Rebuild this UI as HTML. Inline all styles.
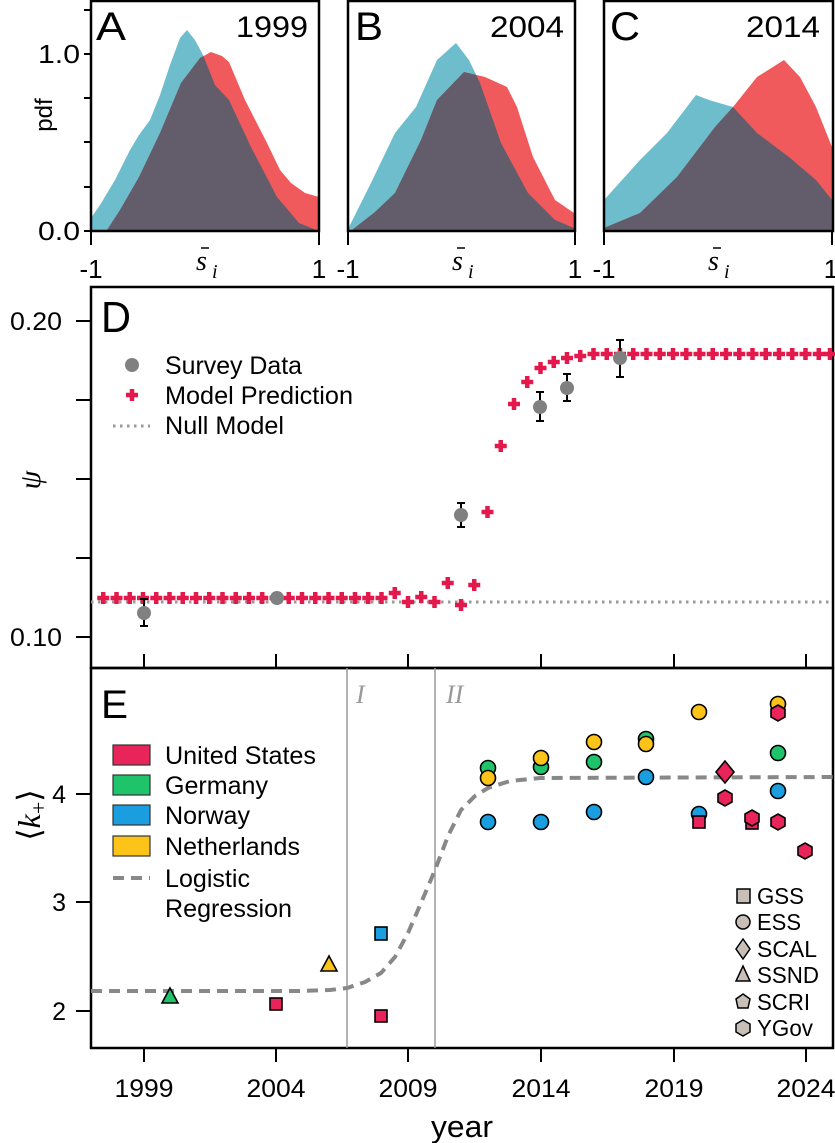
<!DOCTYPE html>
<html><head><meta charset="utf-8"><style>
html,body{margin:0;padding:0;background:#fff}
svg{display:block;font-family:"Liberation Sans",sans-serif}
</style></head><body>
<svg width="835" height="1143" viewBox="0 0 835 1143" xmlns="http://www.w3.org/2000/svg">
<defs>
<clipPath id="cA"><path d="M91,231 L91,218 L100,205 L115,180 L130,150 L139,135 L150,120 L160,95 L170,65 L180,38 L187,30 L195,40 L203,55 L215,85 L229,100 L251,147 L277,197 L299,223 L319,231 Z"/></clipPath>
<clipPath id="cB"><path d="M349,231 L349,227 L370,185 L395,133 L416,107 L437,60 L456,43 L469,60 L480,83 L501,143 L528,193 L555,220 L574,228 L574,231 Z"/></clipPath>
<clipPath id="cC"><path d="M604,231 L604,200 L640,160 L667,133 L696,95 L709,100 L733,107 L757,133 L789,157 L816,180 L832,200 L832,231 Z"/></clipPath>
<g id="pl"><path d="M-6,0 H6 M0,-6 V6" stroke="#e3194b" stroke-width="4.5"/></g>
</defs>

<!-- Panel A -->
<path d="M91,231 L91,218 L100,205 L115,180 L130,150 L139,135 L150,120 L160,95 L170,65 L180,38 L187,30 L195,40 L203,55 L215,85 L229,100 L251,147 L277,197 L299,223 L319,231 Z" fill="#6dbdcd"/>
<path d="M91,231 L107,230 L120,210 L139,177 L160,133 L181,83 L200,58 L211,52 L222,56 L229,62 L245,100 L267,143 L280,170 L291,183 L305,193 L319,197 L319,231 Z" fill="#f05a5d"/>
<path d="M91,231 L107,230 L120,210 L139,177 L160,133 L181,83 L200,58 L211,52 L222,56 L229,62 L245,100 L267,143 L280,170 L291,183 L305,193 L319,197 L319,231 Z" fill="#635d6b" clip-path="url(#cA)"/>
<rect x="91" y="1" width="228" height="230" fill="none" stroke="#000" stroke-width="2.5"/>
<text x="96" y="40" font-size="40" textLength="30" lengthAdjust="spacingAndGlyphs">A</text>
<text x="308" y="37" font-size="30" text-anchor="end" textLength="72" lengthAdjust="spacingAndGlyphs">1999</text>

<!-- Panel B -->
<path d="M349,231 L349,227 L370,185 L395,133 L416,107 L437,60 L456,43 L469,60 L480,83 L501,143 L528,193 L555,220 L574,228 L574,231 Z" fill="#6dbdcd"/>
<path d="M349,231 L352,230 L375,212 L395,193 L421,140 L437,100 L464,72 L485,77 L507,87 L517,107 L533,157 L555,200 L574,213 L574,231 Z" fill="#f05a5d"/>
<path d="M349,231 L352,230 L375,212 L395,193 L421,140 L437,100 L464,72 L485,77 L507,87 L517,107 L533,157 L555,200 L574,213 L574,231 Z" fill="#635d6b" clip-path="url(#cB)"/>
<rect x="348" y="1" width="227" height="230" fill="none" stroke="#000" stroke-width="2.5"/>
<text x="355" y="40" font-size="40" textLength="28" lengthAdjust="spacingAndGlyphs">B</text>
<text x="564" y="37" font-size="30" text-anchor="end" textLength="74" lengthAdjust="spacingAndGlyphs">2004</text>

<!-- Panel C -->
<path d="M604,231 L604,200 L640,160 L667,133 L696,95 L709,100 L733,107 L757,133 L789,157 L816,180 L832,200 L832,231 Z" fill="#6dbdcd"/>
<path d="M604,231 L604,228 L640,213 L677,177 L715,127 L733,107 L757,77 L784,60 L800,77 L816,107 L832,147 L832,231 Z" fill="#f05a5d"/>
<path d="M604,231 L604,228 L640,213 L677,177 L715,127 L733,107 L757,77 L784,60 L800,77 L816,107 L832,147 L832,231 Z" fill="#635d6b" clip-path="url(#cC)"/>
<rect x="604" y="1" width="229" height="230" fill="none" stroke="#000" stroke-width="2.5"/>
<text x="610" y="40" font-size="40" textLength="30" lengthAdjust="spacingAndGlyphs">C</text>
<text x="820" y="37" font-size="30" text-anchor="end" textLength="74" lengthAdjust="spacingAndGlyphs">2014</text>

<!-- top ticks -->
<g stroke="#000" stroke-width="2">
<path d="M84,10H91 M84,54H91 M84,98H91 M84,142H91 M84,187H91 M84,231H91"/>
<path d="M91,231V245 M319,231V245 M348,231V245 M575,231V245 M604,231V245 M832,231V245"/>
<path d="M201,248H209 M457,248H465 M713,248H721" stroke-width="1.5"/>
</g>
<g font-size="26">
<text x="80" y="63" text-anchor="end" textLength="42" lengthAdjust="spacingAndGlyphs">1.0</text>
<text x="80" y="240" text-anchor="end" textLength="42" lengthAdjust="spacingAndGlyphs">0.0</text>
<text x="52" y="115" transform="rotate(-90 52 115)" text-anchor="middle" font-size="24">pdf</text>
<text x="91" y="278" text-anchor="middle">-1</text><text x="319" y="278" text-anchor="middle">1</text>
<text x="348" y="278" text-anchor="middle">-1</text><text x="575" y="278" text-anchor="middle">1</text>
<text x="604" y="278" text-anchor="middle">-1</text><text x="831" y="278" text-anchor="middle">1</text>
</g>
<g font-family="'Liberation Serif',serif" font-style="italic" font-size="28">
<text x="196" y="270">s</text><text x="212" y="278" font-size="20">i</text>
<text x="452" y="270">s</text><text x="468" y="278" font-size="20">i</text>
<text x="708" y="270">s</text><text x="724" y="278" font-size="20">i</text>
</g>

<!-- Panel D -->
<rect x="91" y="287" width="742" height="381" fill="none" stroke="#000" stroke-width="2.5"/>
<text x="101" y="332" font-size="44" textLength="30" lengthAdjust="spacingAndGlyphs">D</text>
<line x1="91" y1="602" x2="833" y2="602" stroke="#999" stroke-width="3" stroke-dasharray="2.5,4.5"/>
<g>
<use href="#pl" x="103.25" y="598"/><use href="#pl" x="116.5" y="598"/><use href="#pl" x="129.75" y="598"/><use href="#pl" x="143" y="598"/><use href="#pl" x="156.25" y="598"/><use href="#pl" x="169.5" y="598"/><use href="#pl" x="182.75" y="598"/><use href="#pl" x="196" y="598"/><use href="#pl" x="209.25" y="598"/><use href="#pl" x="222.5" y="598"/><use href="#pl" x="235.75" y="598"/><use href="#pl" x="249" y="598"/><use href="#pl" x="262.25" y="598"/><use href="#pl" x="275.5" y="598"/><use href="#pl" x="288.75" y="598"/><use href="#pl" x="302" y="598"/><use href="#pl" x="315.25" y="598"/><use href="#pl" x="328.5" y="598"/><use href="#pl" x="341.75" y="598"/><use href="#pl" x="355" y="598"/><use href="#pl" x="368.25" y="598"/><use href="#pl" x="381.5" y="598"/>
<use href="#pl" x="394.75" y="593"/><use href="#pl" x="408" y="602"/><use href="#pl" x="421.25" y="597"/><use href="#pl" x="434.5" y="602"/><use href="#pl" x="447.75" y="583"/><use href="#pl" x="461" y="605"/><use href="#pl" x="474.25" y="585"/><use href="#pl" x="487.5" y="512"/><use href="#pl" x="500.75" y="446"/><use href="#pl" x="514" y="404"/><use href="#pl" x="527.25" y="382"/><use href="#pl" x="540.5" y="368"/><use href="#pl" x="553.75" y="362"/><use href="#pl" x="567" y="358"/><use href="#pl" x="580.25" y="356"/>
<use href="#pl" x="593.5" y="354"/><use href="#pl" x="606.75" y="354"/><use href="#pl" x="620" y="354"/><use href="#pl" x="633.25" y="354"/><use href="#pl" x="646.5" y="354"/><use href="#pl" x="659.75" y="354"/><use href="#pl" x="673" y="354"/><use href="#pl" x="686.25" y="354"/><use href="#pl" x="699.5" y="354"/><use href="#pl" x="712.75" y="354"/><use href="#pl" x="726" y="354"/><use href="#pl" x="739.25" y="354"/><use href="#pl" x="752.5" y="354"/><use href="#pl" x="765.75" y="354"/><use href="#pl" x="779" y="354"/><use href="#pl" x="792.25" y="354"/><use href="#pl" x="805.5" y="354"/><use href="#pl" x="818.75" y="354"/><use href="#pl" x="830" y="354"/>
</g>
<g stroke="#000" stroke-width="2">
<path d="M144,599V626 M140,599H148 M140,626H148"/>
<path d="M277,593V602 M273,593H281 M273,602H281"/>
<path d="M461,503V527 M457,503H465 M457,527H465"/>
<path d="M540,392V421 M536,392H544 M536,421H544"/>
<path d="M567,374V401 M563,374H571 M563,401H571"/>
<path d="M620,340V377 M616,340H624 M616,377H624"/>
</g>
<g fill="#808080">
<circle cx="144" cy="613" r="7"/><circle cx="277" cy="598" r="7"/><circle cx="461" cy="515" r="7"/><circle cx="540" cy="407" r="7"/><circle cx="567" cy="388" r="7"/><circle cx="620" cy="358" r="7"/>
</g>
<!-- D legend -->
<circle cx="132" cy="365" r="7" fill="#808080"/>
<use href="#pl" x="132" y="395"/>
<line x1="113" y1="426" x2="150" y2="426" stroke="#999" stroke-width="3" stroke-dasharray="2.5,4.5"/>
<g font-size="25">
<text x="165" y="374" textLength="137" lengthAdjust="spacingAndGlyphs">Survey Data</text>
<text x="165" y="404" textLength="188" lengthAdjust="spacingAndGlyphs">Model Prediction</text>
<text x="165" y="434" textLength="119" lengthAdjust="spacingAndGlyphs">Null Model</text>
</g>
<g stroke="#000" stroke-width="2">
<path d="M76,321H91 M76,400H91 M76,479H91 M76,558H91 M76,637H91"/>
<path d="M144,654V668 M276,654V668 M408,654V668 M541,654V668 M674,654V668 M806,654V668"/>
</g>
<text x="62" y="330" font-size="25" text-anchor="end" textLength="52" lengthAdjust="spacingAndGlyphs">0.20</text>
<text x="62" y="646" font-size="25" text-anchor="end" textLength="52" lengthAdjust="spacingAndGlyphs">0.10</text>
<text x="40" y="480" font-family="'Liberation Serif',serif" font-style="italic" font-size="30" transform="rotate(-90 40 480)" text-anchor="middle">ψ</text>

<!-- Panel E -->
<rect x="91" y="668" width="742" height="380" fill="none" stroke="#000" stroke-width="2.5"/>
<line x1="347" y1="668" x2="347" y2="1048" stroke="#999" stroke-width="1.5"/>
<line x1="435" y1="668" x2="435" y2="1048" stroke="#999" stroke-width="1.5"/>
<g font-family="'Liberation Serif',serif" font-style="italic" font-size="26" fill="#999">
<text x="356" y="703">I</text><text x="446" y="703">II</text>
</g>
<text x="101" y="718" font-size="40" textLength="27" lengthAdjust="spacingAndGlyphs">E</text>
<path d="M91,991 L300,991 L330,990 L347,988 L365,982 L381,973 L395,957 L408,933 L421,903 L435,870 L448,836 L461,810 L475,796 L488,788 L510,781 L540,778 L833,777" fill="none" stroke="#888" stroke-width="4" stroke-dasharray="11,7"/>
<!-- E legend -->
<g stroke="#333" stroke-width="1.2">
<rect x="113" y="745" width="37" height="20" fill="#e8245a"/>
<rect x="113" y="775" width="37" height="20" fill="#1fc46a"/>
<rect x="113" y="805" width="37" height="20" fill="#1a9ee0"/>
<rect x="113" y="836" width="37" height="20" fill="#fcc419"/>
</g>
<line x1="113" y1="878" x2="150" y2="878" stroke="#888" stroke-width="4" stroke-dasharray="11,7"/>
<g font-size="25">
<text x="165" y="764" textLength="151" lengthAdjust="spacingAndGlyphs">United States</text>
<text x="165" y="794" textLength="103" lengthAdjust="spacingAndGlyphs">Germany</text>
<text x="165" y="824" textLength="85" lengthAdjust="spacingAndGlyphs">Norway</text>
<text x="165" y="855" textLength="135" lengthAdjust="spacingAndGlyphs">Netherlands</text>
<text x="165" y="887" textLength="85" lengthAdjust="spacingAndGlyphs">Logistic</text>
<text x="165" y="917" textLength="127" lengthAdjust="spacingAndGlyphs">Regression</text>
</g>
<!-- data -->
<g stroke="#000" stroke-width="1.6">
<path d="M170,988 L178,1003 L162,1003 Z" fill="#1fc46a"/>
<rect x="270" y="998" width="12" height="12" fill="#e8245a"/>
<path d="M329,956 L337,971 L321,971 Z" fill="#fcc419"/>
<rect x="375" y="927" width="12" height="13" fill="#1a9ee0"/>
<rect x="375" y="1010" width="12" height="12" fill="#e8245a"/>
<circle cx="488" cy="768" r="7.5" fill="#1fc46a"/><circle cx="488" cy="778" r="7.5" fill="#fcc419"/><circle cx="488" cy="822" r="7.5" fill="#1a9ee0"/>
<circle cx="541" cy="767" r="7.5" fill="#1fc46a"/><circle cx="541" cy="758" r="7.5" fill="#fcc419"/><circle cx="541" cy="822" r="7.5" fill="#1a9ee0"/>
<circle cx="594" cy="762" r="7.5" fill="#1fc46a"/><circle cx="594" cy="742" r="7.5" fill="#fcc419"/><circle cx="594" cy="812" r="7.5" fill="#1a9ee0"/>
<circle cx="646" cy="739" r="7.5" fill="#1fc46a"/><circle cx="646" cy="744" r="7.5" fill="#fcc419"/><circle cx="646" cy="777" r="7.5" fill="#1a9ee0"/>
<circle cx="699" cy="712" r="7.5" fill="#fcc419"/><circle cx="699" cy="814" r="7.5" fill="#1a9ee0"/>
<rect x="693" y="816" width="12" height="12" fill="#e8245a"/>
<path d="M725,761 L734,772 L725,783 L716,772 Z" fill="#e8245a"/>
<path d="M725,790 L732,794 L732,802 L725,806 L718,802 L718,794 Z" fill="#e8245a"/>
<rect x="746" y="817" width="12" height="12" fill="#e8245a"/>
<path d="M752,810 L759,814 L759,822 L752,826 L745,822 L745,814 Z" fill="#e8245a"/>
<circle cx="778" cy="704" r="7.5" fill="#fcc419"/>
<path d="M778,705 L785,709 L785,717 L778,721 L771,717 L771,709 Z" fill="#e8245a"/>
<circle cx="778" cy="753" r="7.5" fill="#1fc46a"/>
<circle cx="778" cy="791" r="7.5" fill="#1a9ee0"/>
<path d="M778,814 L785,818 L785,826 L778,830 L771,826 L771,818 Z" fill="#e8245a"/>
<path d="M805,843 L812,847 L812,855 L805,859 L798,855 L798,847 Z" fill="#e8245a"/>
</g>
<!-- marker legend -->
<g stroke="#000" stroke-width="1.5" fill="#c8c0b8">
<rect x="737" y="889" width="13" height="14"/>
<circle cx="743" cy="922" r="7"/>
<path d="M743,939 L750,949 L743,959 L736,949 Z"/>
<path d="M743,966 L750,981 L736,981 Z"/>
<path d="M743,994 L750,999 L748,1008 L738,1008 L736,999 Z"/>
<path d="M743,1020 L750,1024 L750,1032 L743,1036 L736,1032 L736,1024 Z"/>
</g>
<g font-size="23">
<text x="757" y="904" textLength="47" lengthAdjust="spacingAndGlyphs">GSS</text>
<text x="757" y="930" textLength="44" lengthAdjust="spacingAndGlyphs">ESS</text>
<text x="757" y="957" textLength="60" lengthAdjust="spacingAndGlyphs">SCAL</text>
<text x="757" y="983" textLength="62" lengthAdjust="spacingAndGlyphs">SSND</text>
<text x="757" y="1010" textLength="53" lengthAdjust="spacingAndGlyphs">SCRI</text>
<text x="757" y="1036" textLength="56" lengthAdjust="spacingAndGlyphs">YGov</text>
</g>
<g stroke="#000" stroke-width="2">
<path d="M76,794H91 M76,902H91 M76,1011H91"/>
<path d="M144,1048V1062 M276,1048V1062 M408,1048V1062 M541,1048V1062 M674,1048V1062 M806,1048V1062"/>
</g>
<g font-size="25" text-anchor="end">
<text x="66" y="803">4</text><text x="66" y="911">3</text><text x="66" y="1020">2</text>
</g>
<text x="40" y="815" font-family="'Liberation Serif',serif" font-size="32" transform="rotate(-90 40 815)" text-anchor="middle">⟨<tspan font-style="italic">k</tspan><tspan font-size="22" dy="6">+</tspan><tspan dy="-6">⟩</tspan></text>
<g font-size="25" text-anchor="middle">
<text x="144" y="1097" textLength="59" lengthAdjust="spacingAndGlyphs">1999</text><text x="276" y="1097" textLength="59" lengthAdjust="spacingAndGlyphs">2004</text><text x="408" y="1097" textLength="59" lengthAdjust="spacingAndGlyphs">2009</text><text x="541" y="1097" textLength="59" lengthAdjust="spacingAndGlyphs">2014</text><text x="674" y="1097" textLength="59" lengthAdjust="spacingAndGlyphs">2019</text><text x="806" y="1097" textLength="59" lengthAdjust="spacingAndGlyphs">2024</text>
</g>
<text x="462" y="1137" font-size="31" text-anchor="middle" textLength="62" lengthAdjust="spacingAndGlyphs">year</text>
</svg>
</body></html>
